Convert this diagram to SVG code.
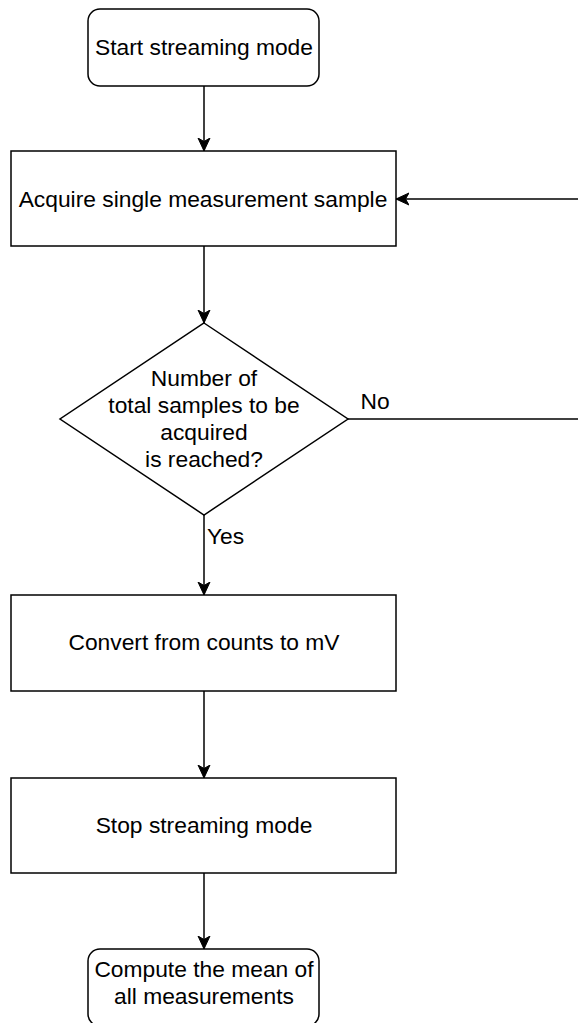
<svg xmlns="http://www.w3.org/2000/svg" width="578" height="1023" viewBox="0 0 578 1023">
  <style>
    .shape { fill: #ffffff; stroke: #000000; stroke-width: 1.5; }
    .edge { fill: none; stroke: #000000; stroke-width: 1.5; }
    .label { font-family: "Liberation Sans", Arial, sans-serif; font-size: 22.8px; fill: #000000; text-anchor: middle; }
    .edge-label { font-family: "Liberation Sans", Arial, sans-serif; font-size: 22.8px; fill: #000000; }
  </style>
  <defs>
    <marker id="arrow" markerWidth="14" markerHeight="14" viewBox="0 0 14 14" refX="13" refY="7" orient="auto" markerUnits="userSpaceOnUse">
      <path d="M13,7 L0,1 L3.5,7 L0,13 Z" fill="#000000" stroke="#000000" stroke-width="1"/>
    </marker>
  </defs>
  <rect width="578" height="1023" fill="#ffffff"/>

  <!-- connectors -->
  <g id="connectors">
    <path class="edge" d="M204,86 L204,151" marker-end="url(#arrow)"/>
    <path class="edge" d="M204,246 L204,323" marker-end="url(#arrow)"/>
    <path class="edge" d="M204,515 L204,595" marker-end="url(#arrow)"/>
    <path class="edge" d="M204,691 L204,778" marker-end="url(#arrow)"/>
    <path class="edge" d="M204,873 L204,949" marker-end="url(#arrow)"/>
    <!-- "No" branch loops back to the acquisition step -->
    <path class="edge" d="M348,419 L578,419"/>
    <path class="edge" d="M578,199 L396,199" marker-end="url(#arrow)"/>
    <text class="edge-label" x="375" y="409" text-anchor="middle">No</text>
    <text class="edge-label" x="207" y="544">Yes</text>
  </g>

  <g id="start">
    <rect class="shape" x="88" y="9" width="231" height="77" rx="12" ry="12"/>
    <text class="label" x="204" y="55">Start streaming mode</text>
  </g>

  <g id="acquire">
    <rect class="shape" x="11" y="151" width="385" height="95"/>
    <text class="label" x="203" y="207">Acquire single measurement sample</text>
  </g>

  <g id="decision">
    <polygon class="shape" points="204,323 348,419 204,515 60,419"/>
    <text class="label" x="204" y="386">Number of</text>
    <text class="label" x="204" y="413">total samples to be</text>
    <text class="label" x="204" y="440">acquired</text>
    <text class="label" x="204" y="467">is reached?</text>
  </g>

  <g id="convert">
    <rect class="shape" x="11" y="595" width="385" height="96"/>
    <text class="label" x="204" y="650">Convert from counts to mV</text>
  </g>

  <g id="stop">
    <rect class="shape" x="11" y="778" width="385" height="95"/>
    <text class="label" x="204" y="833">Stop streaming mode</text>
  </g>

  <g id="compute">
    <rect class="shape" x="88" y="949" width="231" height="77" rx="12" ry="12"/>
    <text class="label" x="204" y="977">Compute the mean of</text>
    <text class="label" x="204" y="1004">all measurements</text>
  </g>
</svg>
